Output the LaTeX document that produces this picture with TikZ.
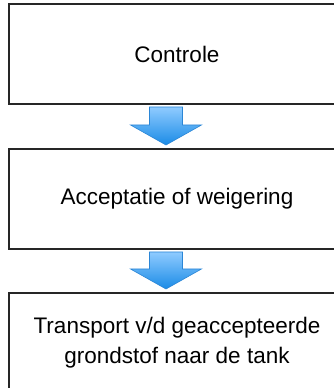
\documentclass[tikz,border=0pt]{standalone}
\usepackage{fontspec}
\setmainfont{Liberation Sans}
\usepackage{xcolor}
\usetikzlibrary{positioning}
\usetikzlibrary{calc}

\definecolor{pijllicht}{HTML}{8FCBFF}
\definecolor{pijldonker}{HTML}{1A8BE6}
\definecolor{pijlrand}{HTML}{2B86D6}

\tikzset{
  blok/.style={minimum width=336pt, minimum height=100pt, outer sep=0pt,
    align=center, font=\fontsize{22.5}{30}\selectfont},
  rand/.style={draw=black!85, line width=1.5pt},
  pijl/.style={top color=pijllicht, bottom color=pijldonker, draw=pijlrand, line width=0.6pt}
}

\begin{document}
\begin{tikzpicture}[x=1pt,y=1pt]
\useasboundingbox (0,0) rectangle (334,388);
\clip (0,0) rectangle (334,388);
\node[blok, anchor=north west] (controle) at (9,384) {Controle};
\node[blok, below=45pt of controle] (accept) {Acceptatie of weigering};
\node[blok, below=44pt of accept] (transport) {Transport v/d geaccepteerde\\grondstof naar de tank};
% kaders, rechts lopen ze door buiten het beeld
\foreach \n in {controle, accept, transport}
  \draw[rand] ([xshift=20pt]\n.north east) -| (\n.south west) -- ([xshift=20pt]\n.south east);
\coordinate (pijlas) at (166,0);
% blokpijlen tussen de stappen
\foreach \a/\b in {controle/accept, accept/transport}{
  \shade[pijl] let \p1=(\a.south), \p2=(\b.north), \p3=(pijlas) in
    ({\x3-16.5pt},{\y1-3pt}) -- ({\x3+16.5pt},{\y1-3pt}) -- ({\x3+16.5pt},{\y2+24pt})
    -- ({\x3+35.5pt},{\y2+24pt}) -- ({\x3},{\y2+4pt}) -- ({\x3-35.5pt},{\y2+24pt})
    -- ({\x3-16.5pt},{\y2+24pt}) -- cycle;
}
\end{tikzpicture}
\end{document}
